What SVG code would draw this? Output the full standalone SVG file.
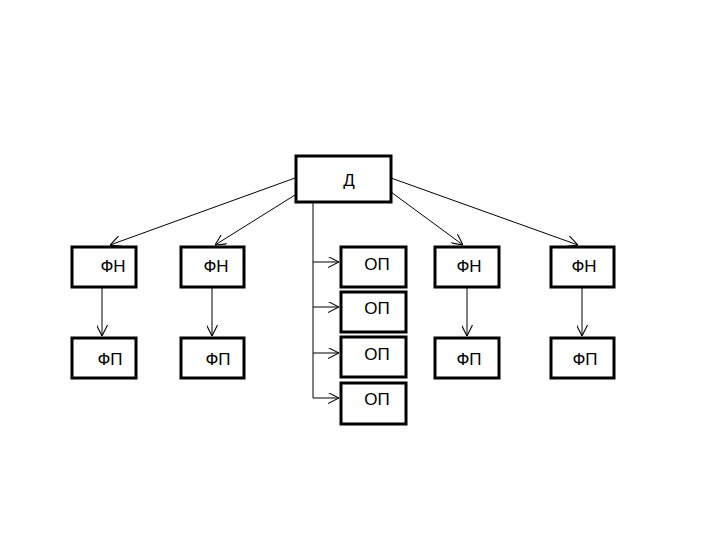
<svg xmlns="http://www.w3.org/2000/svg" width="720" height="540" viewBox="0 0 720 540">
<defs>
<marker id="arr" viewBox="0 0 10 10" refX="10" refY="5" markerWidth="11" markerHeight="11" markerUnits="userSpaceOnUse" orient="auto">
<path d="M0,0 L10,5 L0,10" fill="none" stroke="#000" stroke-width="1"/>
</marker>
<style>
.box{fill:#fff;stroke:#000;stroke-width:3}
.t{font-family:"Liberation Sans",Arial,sans-serif;font-size:17px;fill:#000;text-anchor:middle}
.c{fill:none;stroke:#000;stroke-width:1}
</style>
</defs>
<rect width="720" height="540" fill="#fff"/>
<g id="connectors">
<line class="c" x1="295" y1="178" x2="110" y2="245" marker-end="url(#arr)"/>
<line class="c" x1="295" y1="195" x2="215" y2="245" marker-end="url(#arr)"/>
<line class="c" x1="391" y1="192" x2="463" y2="245" marker-end="url(#arr)"/>
<line class="c" x1="391" y1="178" x2="578" y2="245" marker-end="url(#arr)"/>
<polyline class="c" points="313,202 313,398"/>
<line class="c" x1="313" y1="262" x2="339" y2="262" marker-end="url(#arr)"/>
<line class="c" x1="313" y1="307" x2="339" y2="307" marker-end="url(#arr)"/>
<line class="c" x1="313" y1="353" x2="339" y2="353" marker-end="url(#arr)"/>
<line class="c" x1="313" y1="398" x2="339" y2="398" marker-end="url(#arr)"/>
<line class="c" x1="102" y1="287" x2="102" y2="336" marker-end="url(#arr)"/>
<line class="c" x1="212" y1="287" x2="212" y2="336" marker-end="url(#arr)"/>
<line class="c" x1="467" y1="287" x2="467" y2="336" marker-end="url(#arr)"/>
<line class="c" x1="582" y1="287" x2="582" y2="336" marker-end="url(#arr)"/>
</g>
<g id="D"><rect class="box" x="296" y="156" width="95" height="46"/><text class="t" x="349" y="186">Д</text></g>
<g id="FN1"><rect class="box" x="72" y="247" width="64" height="40"/><text class="t" x="113" y="272">ФН</text></g>
<g id="FN2"><rect class="box" x="181" y="247" width="63" height="40"/><text class="t" x="216" y="272">ФН</text></g>
<g id="FN3"><rect class="box" x="435" y="247" width="64" height="40"/><text class="t" x="469" y="272">ФН</text></g>
<g id="FN4"><rect class="box" x="551" y="247" width="63" height="40"/><text class="t" x="584" y="272">ФН</text></g>
<g id="FP1"><rect class="box" x="72" y="338" width="64" height="40"/><text class="t" x="110" y="365">ФП</text></g>
<g id="FP2"><rect class="box" x="181" y="338" width="63" height="40"/><text class="t" x="218" y="365">ФП</text></g>
<g id="FP3"><rect class="box" x="435" y="338" width="64" height="40"/><text class="t" x="469" y="365">ФП</text></g>
<g id="FP4"><rect class="box" x="551" y="338" width="63" height="40"/><text class="t" x="585" y="365">ФП</text></g>
<g id="OP1"><rect class="box" x="341" y="247" width="65" height="40"/><text class="t" x="377" y="270">ОП</text></g>
<g id="OP2"><rect class="box" x="341" y="292" width="65" height="40"/><text class="t" x="377" y="314">ОП</text></g>
<g id="OP3"><rect class="box" x="341" y="337" width="65" height="40"/><text class="t" x="377" y="360">ОП</text></g>
<g id="OP4"><rect class="box" x="341" y="383" width="65" height="41"/><text class="t" x="377" y="405">ОП</text></g>
</svg>
